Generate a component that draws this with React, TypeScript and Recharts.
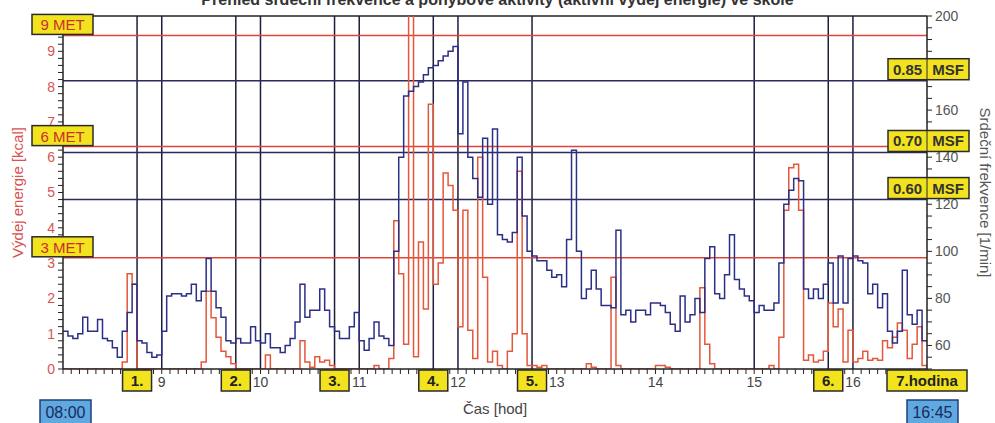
import React from 'react';
import { ComposedChart, Line, XAxis, YAxis, ReferenceLine } from 'recharts';

// sampling of the recording: one value every 3 minutes from 08:00 to 16:45
const START_HOUR = 8;
const STEP_MIN = 3;

// heart rate [1/min]
const heartRate = [
  66, 64, 63, 65, 72, 66, 66, 71, 63, 62,
  59, 55, 66, 74, 86, 62, 61, 57, 55, 56,
  66, 81, 82, 82, 81, 82, 86, 79, 83, 97,
  83, 76, 72, 62, 61, 63, 61, 61, 68, 62,
  61, 65, 59, 59, 57, 60, 63, 70, 86, 72,
  75, 75, 84, 75, 68, 66, 63, 63, 68, 74,
  62, 58, 63, 70, 64, 63, 60, 100, 140, 166,
  168, 170, 172, 175, 178, 179, 181, 183, 185, 187,
  150, 172, 140, 131, 123, 148, 120, 152, 107, 105,
  104, 108, 140, 115, 100, 98, 96, 96, 92, 89,
  90, 85, 105, 143, 100, 80, 84, 92, 84, 77,
  77, 76, 109, 73, 75, 70, 75, 75, 73, 78,
  78, 77, 74, 69, 66, 81, 70, 73, 80, 74,
  97, 102, 82, 80, 90, 107, 88, 84, 81, 79,
  74, 77, 75, 75, 78, 95, 120, 126, 131, 130,
  84, 80, 84, 80, 86, 95, 78, 98, 78, 97,
  98, 96, 95, 82, 86, 76, 82, 66, 61, 66,
  92, 73, 69, 75, 62, 61,
];

// active energy expenditure [kcal]
const energy = [
  0, 0, 0, 0, 0, 0, 0, 0, 0, 0,
  0, 0, 0.2, 2.7, 2.4, 0, 0, 0, 0, 0,
  0, 0, 0, 0, 0, 0, 0, 0, 0.2, 2.2,
  1.45, 0.9, 0.5, 0.35, 0.15, 0, 0, 0, 0, 0,
  0, 0.4, 0, 0, 0, 0, 0, 0, 0.8, 0.2,
  0.05, 0.35, 0.2, 0.25, 0.1, 0, 0, 0, 0, 0,
  0, 0, 0, 0.1, 0, 0, 0.3, 4.2, 2.7, 0.7,
  10.5, 0.35, 3.6, 1.7, 7.5, 2.4, 3.0, 5.55, 5.2, 4.5,
  1.2, 4.5, 1.1, 0.3, 6.0, 2.6, 0.2, 0.5, 0.1, 0,
  0.5, 1.0, 5.6, 1.0, 0.1, 0.1, 0.05, 0.1, 0, 0,
  0, 0, 0, 0, 0, 0, 0.15, 0.05, 0, 0,
  0, 2.6, 0.1, 0, 0, 0, 0, 0, 0, 0,
  0.1, 0.1, 0.05, 0, 0, 0, 0, 0, 0, 2.3,
  0.7, 0.15, 0, 0, 0, 0, 0, 0, 0, 0,
  0, 0, 0, 0.1, 0, 0.9, 4.5, 5.7, 5.8, 4.5,
  0.25, 0.4, 0.2, 0.25, 0.5, 1.87, 1.2, 1.7, 0.2, 1.1,
  0.2, 0.3, 0.5, 0.25, 0.3, 0.25, 0.8, 0.6, 0.9, 1.3,
  1.1, 0.3, 0.7, 1.2, 0.1, 0,
];

const hourLabels = [9, 10, 11, 12, 13, 14, 15, 16];
// 10 kcal and 180/min sit under the yellow boxes, so they get no label
const kcalLabels = [0, 1, 2, 3, 4, 5, 6, 7, 8, 9];
const bpmLabels = [60, 80, 100, 120, 140, 160, 200];

// lesson boundaries (hours)
const lessonLines = [8.75, 9, 9.75, 10, 10.75, 11, 11.75, 12, 12.75, 15, 15.75, 16];
const lessonMarks = [8.75, 9.75, 10.75, 11.75, 12.75, 15.75];
const lessonNames = ['1.', '2.', '3.', '4.', '5.', '6.'];

// intensity thresholds
const metLevels = [3.15, 6.3, 9.45];
const metNames = ['3 MET', '6 MET', '9 MET'];
const msfLevels = [122, 142, 172.5];
const msfNames = ['0.60', '0.70', '0.85'];

const rows = heartRate.map((hr, i) => ({
  t: START_HOUR + (i * STEP_MIN) / 60,
  hr,
  kcal: energy[i],
}));

const xTicks = Array.from({ length: 106 }, (_, k) => START_HOUR + k / 12);
const kcalTicks = Array.from({ length: 51 }, (_, k) => k / 5);
const bpmTicks = Array.from({ length: 31 }, (_, k) => 50 + k * 5);

const near = (v: number, list: number[]) => list.some((n) => Math.abs(n - v) < 1e-6);

const YELLOW = '#f3e21e';
const EDGE = '#2a2a2a';
const RED = '#e4573a';
const NAVY = '#2c2f86';
const FONT = '"Liberation Sans", Arial, sans-serif';

const metLabel = (text: string) => (props: any) => {
  const { x, y } = props.viewBox;
  return (
    <g>
      <rect x={x - 31} y={y - 21} width={61} height={20} fill={YELLOW} stroke={EDGE} strokeWidth={1.5} />
      <text x={x - 0.5} y={y - 10.5} textAnchor="middle" dominantBaseline="central" fontSize={15} fill="#c9302c" fontFamily={FONT}>
        {text}
      </text>
    </g>
  );
};

const msfLabel = (text: string) => (props: any) => {
  const { x, y, width } = props.viewBox;
  const ax = x + width;
  return (
    <g>
      <rect x={ax - 39} y={y - 22} width={81} height={21} fill={YELLOW} stroke={EDGE} strokeWidth={1.5} />
      <line x1={ax} x2={ax} y1={y - 22} y2={y - 1} stroke={EDGE} strokeWidth={1} />
      <text x={ax - 19.5} y={y - 11.5} textAnchor="middle" dominantBaseline="central" fontSize={15} fontWeight="bold" fill="#333" fontFamily={FONT}>
        {text}
      </text>
      <text x={ax + 21} y={y - 11.5} textAnchor="middle" dominantBaseline="central" fontSize={15} fontWeight="bold" fill="#333" fontFamily={FONT}>
        MSF
      </text>
    </g>
  );
};

const lessonLabel = (text: string, w: number) => (props: any) => {
  const { x, y, height } = props.viewBox;
  const bottom = y + height;
  return (
    <g>
      <rect x={x - w / 2} y={bottom + 1} width={w} height={21} fill={YELLOW} stroke={EDGE} strokeWidth={1.5} />
      <text x={x} y={bottom + 11.5} textAnchor="middle" dominantBaseline="central" fontSize={15} fontWeight="bold" fill="#222" fontFamily={FONT}>
        {text}
      </text>
    </g>
  );
};

const timeBox = (text: string, dx: number) => (props: any) => {
  const { x, y, height } = props.viewBox;
  const bottom = y + height;
  return (
    <g>
      <rect x={x + dx} y={bottom + 31} width={51} height={26} fill="#5fa8e0" stroke="#1e3f7a" strokeWidth={1.5} />
      <text x={x + dx + 25.5} y={bottom + 43} textAnchor="middle" dominantBaseline="central" fontSize={16} fill="#1a2b5c" fontFamily={FONT}>
        {text}
      </text>
    </g>
  );
};

const endLabel = (props: any) => (
  <g>
    {lessonLabel('7.hodina', 80)(props)}
    {timeBox('16:45', -20)(props)}
  </g>
);

export default function App() {
  return (
    <div
      style={{
        position: 'absolute',
        left: 0,
        top: 0,
        width: 995,
        height: 423,
        background: '#fff',
        overflow: 'hidden',
        fontFamily: FONT,
      }}
    >
      <ComposedChart width={995} height={423} data={rows} margin={{ top: 16, right: 0, bottom: 24, left: 0 }}>
        <XAxis
          dataKey="t"
          type="number"
          domain={[8, 16.75]}
          ticks={xTicks}
          interval={0}
          allowDataOverflow
          height={30}
          tickSize={5}
          tickMargin={3}
          tickFormatter={(v: number) => (near(v, hourLabels) ? String(Math.round(v)) : '')}
          tick={{ fill: '#444', fontSize: 14 }}
          axisLine={{ stroke: '#222', strokeWidth: 1.5 }}
          tickLine={{ stroke: '#222' }}
          label={{ value: 'Čas [hod]', position: 'bottom', offset: 4, fill: '#444', fontSize: 15 }}
        />
        <YAxis
          yAxisId="kcal"
          orientation="left"
          domain={[0, 10]}
          ticks={kcalTicks}
          interval={0}
          allowDataOverflow
          width={63}
          tickSize={5}
          tickMargin={3}
          tickFormatter={(v: number) => (near(v, kcalLabels) ? String(Math.round(v)) : '')}
          tick={{ fill: '#d9534f', fontSize: 14 }}
          axisLine={{ stroke: '#222', strokeWidth: 1.5 }}
          tickLine={{ stroke: '#222' }}
          label={{
            value: 'Výdej energie [kcal]',
            angle: -90,
            position: 'insideLeft',
            offset: 18,
            fill: '#d9534f',
            fontSize: 15,
            style: { textAnchor: 'middle' },
          }}
        />
        <YAxis
          yAxisId="hr"
          orientation="right"
          domain={[50, 200]}
          ticks={bpmTicks}
          interval={0}
          allowDataOverflow
          width={68}
          tickSize={5}
          tickMargin={3}
          tickFormatter={(v: number) => (near(v, bpmLabels) ? String(Math.round(v)) : '')}
          tick={{ fill: '#555', fontSize: 14 }}
          axisLine={{ stroke: '#222', strokeWidth: 1.5 }}
          tickLine={{ stroke: '#222' }}
          label={{
            value: 'Srdeční frekvence [1/min]',
            angle: 90,
            position: 'insideRight',
            offset: 10,
            fill: '#555',
            fontSize: 15,
            style: { textAnchor: 'middle' },
          }}
        />

        <ReferenceLine yAxisId="kcal" y={10} stroke="#222" strokeWidth={1.5} />
        {lessonLines.map((h) => (
          <ReferenceLine key={`l${h}`} yAxisId="kcal" x={h} stroke="#1c1c3c" strokeWidth={1.5} />
        ))}
        {msfLevels.map((v) => (
          <ReferenceLine key={`m${v}`} yAxisId="hr" y={v} stroke="#2a2a5e" strokeWidth={1.5} />
        ))}
        {metLevels.map((v) => (
          <ReferenceLine key={`e${v}`} yAxisId="kcal" y={v} stroke="#e0453a" strokeWidth={1.5} />
        ))}

        <Line yAxisId="kcal" dataKey="kcal" type="stepAfter" stroke={RED} strokeWidth={1.5} dot={false} activeDot={false} isAnimationActive={false} />
        <Line yAxisId="hr" dataKey="hr" type="stepAfter" stroke={NAVY} strokeWidth={1.5} dot={false} activeDot={false} isAnimationActive={false} />

        {metLevels.map((v, i) => (
          <ReferenceLine key={`el${v}`} yAxisId="kcal" y={v} stroke="none" zIndex={2500} label={metLabel(metNames[i])} />
        ))}
        {msfLevels.map((v, i) => (
          <ReferenceLine key={`ml${v}`} yAxisId="hr" y={v} stroke="none" zIndex={2500} label={msfLabel(msfNames[i])} />
        ))}
        {lessonMarks.map((h, i) => (
          <ReferenceLine key={`ll${h}`} yAxisId="kcal" x={h} stroke="none" zIndex={2500} label={lessonLabel(lessonNames[i], 29)} />
        ))}
        <ReferenceLine yAxisId="kcal" x={8} stroke="none" zIndex={2500} label={timeBox('08:00', -23)} />
        <ReferenceLine yAxisId="kcal" x={16.75} stroke="none" zIndex={2500} label={endLabel} />
      </ComposedChart>
      <div
        style={{
          position: 'absolute',
          left: 0,
          top: -9,
          width: 995,
          textAlign: 'center',
          fontSize: 16,
          fontWeight: 'bold',
          color: '#333',
          lineHeight: '18px',
        }}
      >
        Přehled srdeční frekvence a pohybové aktivity (aktivní výdej energie) ve škole
      </div>
    </div>
  );
}
